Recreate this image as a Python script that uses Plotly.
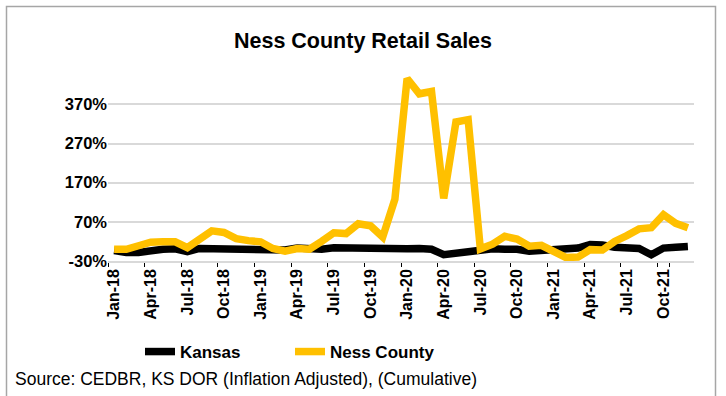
import plotly.graph_objects as go

months = [
    "Jan-18", "Feb-18", "Mar-18", "Apr-18", "May-18", "Jun-18", "Jul-18", "Aug-18", "Sep-18", "Oct-18", "Nov-18", "Dec-18",
    "Jan-19", "Feb-19", "Mar-19", "Apr-19", "May-19", "Jun-19", "Jul-19", "Aug-19", "Sep-19", "Oct-19", "Nov-19", "Dec-19",
    "Jan-20", "Feb-20", "Mar-20", "Apr-20", "May-20", "Jun-20", "Jul-20", "Aug-20", "Sep-20", "Oct-20", "Nov-20", "Dec-20",
    "Jan-21", "Feb-21", "Mar-21", "Apr-21", "May-21", "Jun-21", "Jul-21", "Aug-21", "Sep-21", "Oct-21", "Nov-21", "Dec-21",
]

kansas = [
    -3, -8, -8, -2, 0, 1, -6, 2, 1, 0, 0, 0,
    0, -1, -2, 3, 1, 0, 4, 3, 3, 3, 2, 2,
    1, 2, 0, -14, -10, -3, 0, 1, 0, 0, -5, -3,
    2, 0, 3, 12, 11, 5, 3, 2, -14, 3, 5, 7,
]

ness = [
    0, 0, 9, 18, 19, 19, 4, 26, 47, 43, 27, 22,
    19, 2, -5, 2, 0, 20, 42, 40, 65, 60, 31, 128,
    436, 397, 403, 130, 325, 331, 1, 13, 33, 26, 8, 10,
    -4, -21, -20, -1, -2, 20, 35, 52, 55, 88, 66, 55,
]

tick_labels = months[::3]
y_ticks = [-30, 70, 170, 270, 370]

W, H = 726, 396
L, R, T, B = 108, 32, 75, 135
pw, ph = W - L - R, H - T - B

def px(x):
    return (x - L) / pw

def py(y):
    return (H - B - y) / ph

fig = go.Figure()
fig.add_trace(go.Scatter(x=months, y=kansas, name="<b>Kansas</b>", mode="lines",
                         line=dict(color="#000000", width=7.5)))
fig.add_trace(go.Scatter(x=months, y=ness, name="<b>Ness County</b>", mode="lines",
                         line=dict(color="#FFC000", width=7.5)))

fig.update_layout(
    width=W, height=H,
    margin=dict(l=L, r=R, t=T, b=B, autoexpand=False),
    paper_bgcolor="white", plot_bgcolor="white",
    font=dict(family="Liberation Sans", color="#000000"),
    title=dict(text="<b>Ness County Retail Sales</b>", x=363 / W, xanchor="center",
               xref="container", yref="container",
               y=1 - 40 / H, yanchor="middle",
               font=dict(size=21.5, family="Liberation Sans", color="#000000")),
    showlegend=True,
    legend=dict(orientation="h", x=px(140), xanchor="left", y=py(352), yanchor="middle",
                font=dict(size=17, family="Liberation Sans"),
                itemwidth=30, traceorder="normal", tracegroupgap=0,
                entrywidth=105, entrywidthmode="pixels",
                bgcolor="rgba(0,0,0,0)"),
    xaxis=dict(type="category", range=[-0.5, 47.5], tickmode="array",
               tickvals=tick_labels, ticktext=[f"<b>{t}</b>" for t in tick_labels],
               tickangle=-90, tickfont=dict(size=16, family="Liberation Sans"),
               tickson="boundaries", ticks="outside", ticklen=4, tickcolor="#000000",
               showgrid=False, showline=True, linecolor="#d9d9d9", linewidth=1.5,
               zeroline=False, fixedrange=True, automargin=False),
    yaxis=dict(range=[-30, 445], tickmode="array", tickvals=y_ticks,
               ticktext=[f"<b>{v}%</b>" for v in y_ticks],
               tickfont=dict(size=16.5, family="Liberation Sans"),
               showgrid=True, gridcolor="#d9d9d9", gridwidth=1.5,
               zeroline=False, ticks="", showline=False, fixedrange=True, automargin=False),
    shapes=[dict(type="rect", xref="paper", yref="paper",
                 x0=px(6.5), x1=px(715.5), y0=py(402), y1=py(6.5),
                 line=dict(color="#a6a6a6", width=1.5), fillcolor="rgba(0,0,0,0)",
                 layer="below")],
    annotations=[dict(text="Source: CEDBR, KS DOR (Inflation Adjusted), (Cumulative)",
                      xref="paper", yref="paper", x=px(13), y=py(379),
                      xanchor="left", yanchor="middle", showarrow=False,
                      font=dict(size=17.5, family="Liberation Sans", color="#000000"))],
)

fig.write_html("out.html", config={"displayModeBar": False},
               post_script="document.body.style.margin='0';document.body.style.overflow='hidden';")
